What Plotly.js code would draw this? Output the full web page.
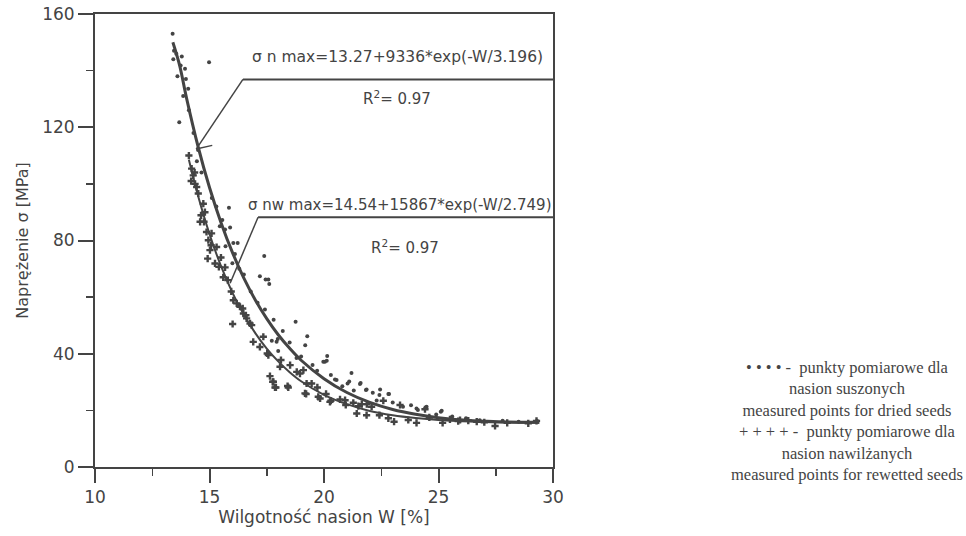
<!DOCTYPE html>
<html>
<head>
<meta charset="utf-8">
<script src="https://cdn.plot.ly/plotly-3.0.1.min.js"></script>
<style>html,body{margin:0;padding:0;background:#fff;}#chart{width:966px;height:536px;}</style>
</head>
<body>
<div id="chart"></div>
<script>
// Measured points for dried seeds (W [%], sigma [MPa])
var driedW = [13.39,13.45,13.42,13.6,13.74,13.79,13.93,13.97,14.07,13.68,14.98,13.55,13.85,14.1,14.3,14.5,14.45,14.65,
  15.56,15.68,15.85,15.9,16.04,16.23,16.11,17.39,17.2,17.45,17.57,17.61,15.3,15.1,15.45,15.7,16.3,16.5,16.8,16.0,
  17.42,17.72,17.93,17.98,18.76,19.27,19.18,20.14,20.04,20.12,17.1,17.8,18.2,18.5,19.0,19.5,18.0,18.8,19.7,
  20.48,21.03,21.57,21.86,22.13,22.42,22.84,19.97,21.1,21.6,21.83,20.55,22.45,22.81,21.2,
  23.45,24.04,24.1,24.48,25.14,24.41,25.1,23.0,23.8,22.3,24.9,25.6,26.2,26.8,27.8,28.5,29.3,20.8,21.3,20.3];
var driedS = [153,147,144,138,141.8,145,140.7,137,133.6,121.8,143,146,131,126,118,112,108,104,
  87.2,83.9,91.6,84.6,79.1,79.1,75.2,74.5,67.4,66.2,66.2,64.6,92,95,85,78,70,68,62,72,
  55.6,44.6,44.2,45.2,51.3,46.2,43,39.2,37.2,37.5,58,52,48,44,39,36,41,38.5,34,
  30.9,29.5,29.3,27.4,26.2,25.4,25.8,37.2,30.2,29.7,27.2,30.7,27.4,25.8,33.2,
  21.3,20.7,20.1,21.3,19.9,20.7,19.5,22.8,21.8,23.5,18.5,17.8,17.2,16.5,16.3,16.0,16.3,28.5,27,32.5];

// Measured points for rewetted seeds
var wetW = [14.1,14.22,14.29,14.37,14.44,14.51,14.73,14.59,14.63,14.76,14.87,14.95,15.02,15.07,15.09,14.92,15.24,15.31,15.41,15.68,14.2,14.35,14.8,15.5,15.6,15.8,15.95,
  16.04,16.01,16.19,16.33,16.48,16.62,16.77,16.91,17.35,17.57,17.64,17.76,17.9,18.41,18.08,18.81,19.24,19.17,19.75,16.84,16.59,16.45,17.2,17.52,18.12,18.52,19.1,19.46,18.95,19.71,20.09,19.83,20.26,20.92,21.5,21.87,19.22,18.44,17.79,17.86,
  20.3,20.95,21.43,21.86,22.42,22.81,23.06,23.68,24.04,22.59,23.32,22.08,21.65,21.28,20.7,
  24.41,25.18,25.86,26.67,27.47,28.92,29.28,25.94,24.6,25.5,26.3,27.0,28.0];
var wetS = [110,105.4,103,100,98.9,96.6,93,86.6,88.9,86.6,83,80.1,76.6,78.3,82.5,73.6,71.9,77.7,70.7,70.5,101,104,90,74,67,66,62,
  58.9,50.5,57.8,56.6,54.2,52.5,50.7,44.2,46,39.5,32.1,30.1,28.1,28.6,35.4,33.6,29.5,26,24.8,50.1,53.6,56,42.4,40.1,37.8,36,34.2,29.5,33,28.1,25.8,24.2,23,23.6,21.5,22.2,25.8,28.1,30.1,28.1,
  23.4,21.9,18.9,18.3,18.3,17.2,16,16.6,15.6,23.4,21.9,21.3,22.2,22.7,23.9,
  20.4,15.6,16.2,16,14.5,15.4,16.3,16.6,17.5,16.8,16.4,15.8,15.6];

// Fitted curve for dried seeds
var fitDriedW = [13.4,13.7,14,14.5,15,15.5,16,16.5,17,17.5,18,18.5,19,20,21,22,23,24,25,26,27,28,29.4];
var fitDriedS = [150,141.7,130.2,113.2,98.7,86.4,75.8,66.7,59.0,52.4,46.7,41.9,37.7,31.2,26.3,22.8,20.3,18.6,17.4,16.6,16.2,15.9,15.8];
// Fitted curve for rewetted seeds
var fitWetW = [14.1,14.5,15,15.5,16,16.5,17,17.5,18,18.5,19,20,21,22,23,24,25,26,27,28,29.4];
var fitWetS = [108.5,95.8,82.3,71.0,61.6,53.8,47.3,41.8,37.3,33.5,30.3,25.5,22.2,19.8,18.3,17.3,16.6,16.2,15.9,15.7,15.6];

var xTicks = [10,15,20,25,30];
var yTicks = [0,40,80,120,160];

var ink = '#444444';
var sans = 'DejaVu Sans, sans-serif';

var traces = [
  {type:'scatter', mode:'markers', name:'punkty pomiarowe dla nasion suszonych', x:driedW, y:driedS,
   marker:{symbol:'circle', size:4, color:ink}, showlegend:false, hoverinfo:'x+y'},
  {type:'scatter', mode:'markers', name:'punkty pomiarowe dla nasion nawilżanych', x:wetW, y:wetS,
   marker:{symbol:'cross', size:6, color:ink}, showlegend:false, hoverinfo:'x+y'},
  {type:'scatter', mode:'lines', name:'σ n max', x:fitDriedW, y:fitDriedS,
   line:{color:ink, width:3, shape:'spline'}, showlegend:false},
  {type:'scatter', mode:'lines', name:'σ nw max', x:fitWetW, y:fitWetS,
   line:{color:ink, width:2, shape:'spline'}, showlegend:false}
];

var layout = {
  width:966, height:536,
  margin:{l:95, r:413, t:14, b:69, pad:0},
  paper_bgcolor:'#fff', plot_bgcolor:'#fff',
  font:{family:sans, color:ink, size:16},
  xaxis:{range:[10,30], tickvals:xTicks, ticktext:xTicks.map(String), ticks:'outside', ticklen:14, tickwidth:2, tickcolor:ink,
    showline:true, linecolor:ink, linewidth:2, mirror:true, showgrid:false, zeroline:false,
    tickfont:{family:sans, size:17, color:ink},
    minor:{tickvals:[12.5,17.5,22.5,27.5], ticks:'outside', ticklen:7, tickwidth:1.5, tickcolor:ink, showgrid:false},
    title:{text:'Wilgotność nasion W [%]', font:{family:sans, size:17, color:ink}, standoff:4}},
  yaxis:{range:[0,160], tickvals:yTicks, ticktext:yTicks.map(String), ticks:'outside', ticklen:15, tickwidth:2, tickcolor:ink,
    showline:true, linecolor:ink, linewidth:2, mirror:true, showgrid:false, zeroline:false,
    tickfont:{family:sans, size:17, color:ink},
    minor:{tickvals:[20,60,100,140], ticks:'outside', ticklen:7, tickwidth:1.5, tickcolor:ink, showgrid:false},
    title:{text:'Naprężenie σ [MPa]', font:{family:sans, size:16, color:ink}, standoff:10}},
  shapes:[
    {type:'line', xref:'x', yref:'y', x0:16.46, y0:136.9, x1:30, y1:136.9, line:{color:ink, width:2}},
    {type:'line', xref:'x', yref:'y', x0:16.46, y0:136.9, x1:14.42, y1:112.3, line:{color:ink, width:1.5}},
    {type:'line', xref:'x', yref:'y', x0:14.42, y0:112.3, x1:15.12, y1:113.6, line:{color:ink, width:1.5}},
    {type:'line', xref:'x', yref:'y', x0:17.12, y0:88.2, x1:30, y1:88.2, line:{color:ink, width:2}},
    {type:'line', xref:'x', yref:'y', x0:17.12, y0:88.2, x1:15.9, y1:64.9, line:{color:ink, width:1.5}}
  ],
  annotations:[
    {xref:'x', yref:'y', x:23.2, y:144.7, text:'σ n max=13.27+9336*exp(-W/3.196)', showarrow:false,
     font:{family:sans, size:15.5, color:ink}},
    {xref:'x', yref:'y', x:23.2, y:130.2, text:'R<sup>2</sup>= 0.97', showarrow:false,
     font:{family:sans, size:15, color:ink}},
    {xref:'x', yref:'y', x:23.3, y:92.4, text:'σ nw max=14.54+15867*exp(-W/2.749)', showarrow:false,
     font:{family:sans, size:15, color:ink}},
    {xref:'x', yref:'y', x:23.55, y:77.6, text:'R<sup>2</sup>= 0.97', showarrow:false,
     font:{family:sans, size:15, color:ink}},
    {xref:'paper', yref:'paper', x:1.642, y:0.1026, xanchor:'center', yanchor:'middle', align:'center', showarrow:false,
     text:'• • • • -  punkty pomiarowe dla<br>nasion suszonych<br>measured points for dried seeds<br>+ + + + -  punkty pomiarowe dla<br>nasion nawilżanych<br>measured points for rewetted seeds',
     font:{family:'Liberation Serif, serif', size:16.5, color:ink}}
  ]
};

Plotly.newPlot('chart', traces, layout, {displayModeBar:false, staticPlot:true});
</script>
</body>
</html>
